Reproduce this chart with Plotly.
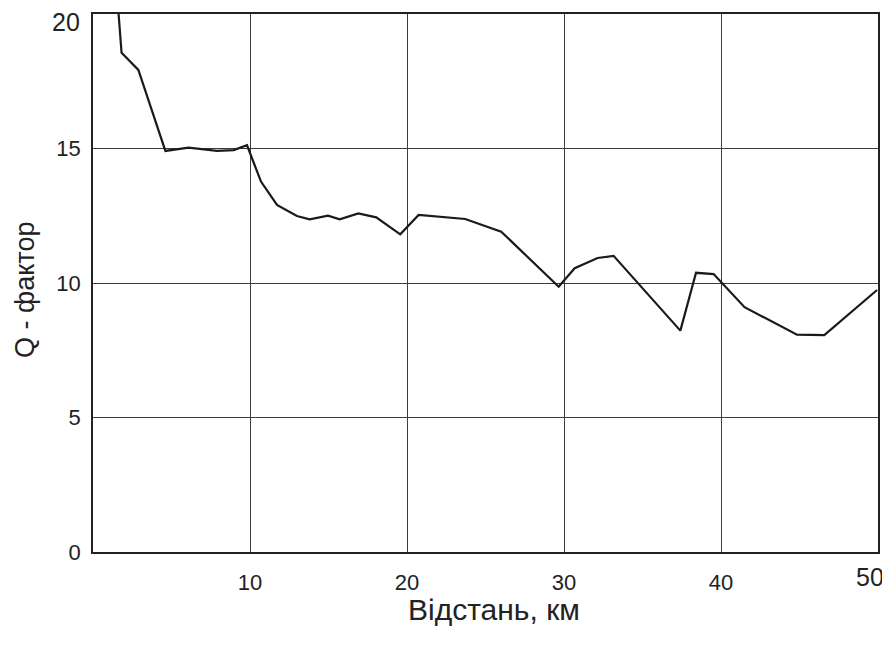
import plotly.graph_objects as go

distance_km = [1.63, 1.82, 2.89, 4.61, 6.09, 7.90, 8.96, 9.81, 10.70, 11.72, 12.99, 13.80,
               14.97, 15.71, 16.90, 18.04, 19.57, 20.74, 23.71, 26.0, 29.66, 30.68, 32.14,
               33.16, 37.41, 38.41, 39.53, 41.50, 44.84, 46.58, 49.94]
q_factor = [20.0, 18.56, 17.92, 14.91, 15.03, 14.91, 14.94, 15.12, 13.77, 12.90, 12.49, 12.37,
            12.50, 12.37, 12.59, 12.44, 11.81, 12.53, 12.38, 11.91, 9.86, 10.55, 10.93,
            11.01, 8.23, 10.38, 10.33, 9.10, 8.08, 8.06, 9.74]

x_tickvals = [10, 20, 30, 40, 50]
x_ticktext = ["10", "20", "30", "40", "50"]
y_tickvals = [0, 5, 10, 15, 20]
y_ticktext = ["0", "5", "10", "15", "20"]

FONT = "Liberation Sans"

# the end labels (larger, offset) are drawn as annotations so they are not cut off
x_text = x_ticktext[:-1] + [""]
y_text = y_ticktext[:-1] + [""]

fig = go.Figure()
fig.add_trace(go.Scatter(
    x=distance_km, y=q_factor, mode="lines",
    line=dict(color="#1a1a1a", width=2.2),
    showlegend=False, cliponaxis=True,
))

axis_common = dict(
    showline=True, linecolor="#222", linewidth=1.5, mirror=True,
    showgrid=True, gridcolor="#3c3c3c", gridwidth=1,
    zeroline=False, ticks="", tickmode="array",
    tickfont=dict(family=FONT, size=22, color="#222"),
    automargin=False, ticklabeloverflow="allow",
)

fig.update_xaxes(
    range=[0, 50], tickvals=x_tickvals, ticktext=x_text,
    ticklabelstandoff=10,
    **axis_common,
)
fig.update_yaxes(
    range=[0, 20], tickvals=y_tickvals, ticktext=y_text,
    ticklabelstandoff=6,
    **axis_common,
)

fig.update_layout(
    width=882, height=638,
    margin=dict(l=85, r=12, t=6, b=94),
    paper_bgcolor="white", plot_bgcolor="white",
    font=dict(family=FONT, color="#222"),
    annotations=[
        dict(text=y_ticktext[-1], xref="paper", yref="y", x=0, y=y_tickvals[-1],
             xshift=-11, yshift=-8, xanchor="right", yanchor="middle", showarrow=False,
             font=dict(family=FONT, size=25, color="#222")),
        dict(text=x_ticktext[-1], xref="x", yref="paper", x=x_tickvals[-1], y=0,
             xshift=8, yshift=-25, xanchor="right", yanchor="middle", showarrow=False,
             font=dict(family=FONT, size=25, color="#222")),
        dict(text="Відстань, км", xref="paper", yref="paper", x=0.511, y=0,
             yshift=-57, xanchor="center", yanchor="middle", showarrow=False,
             font=dict(family=FONT, size=30, color="#222")),
        dict(text="Q - фактор", xref="paper", yref="paper", x=0, y=0.487,
             xshift=-68, xanchor="center", yanchor="middle", showarrow=False,
             textangle=-90, font=dict(family=FONT, size=27, color="#222")),
    ],
)

fig.write_html("out.html")
